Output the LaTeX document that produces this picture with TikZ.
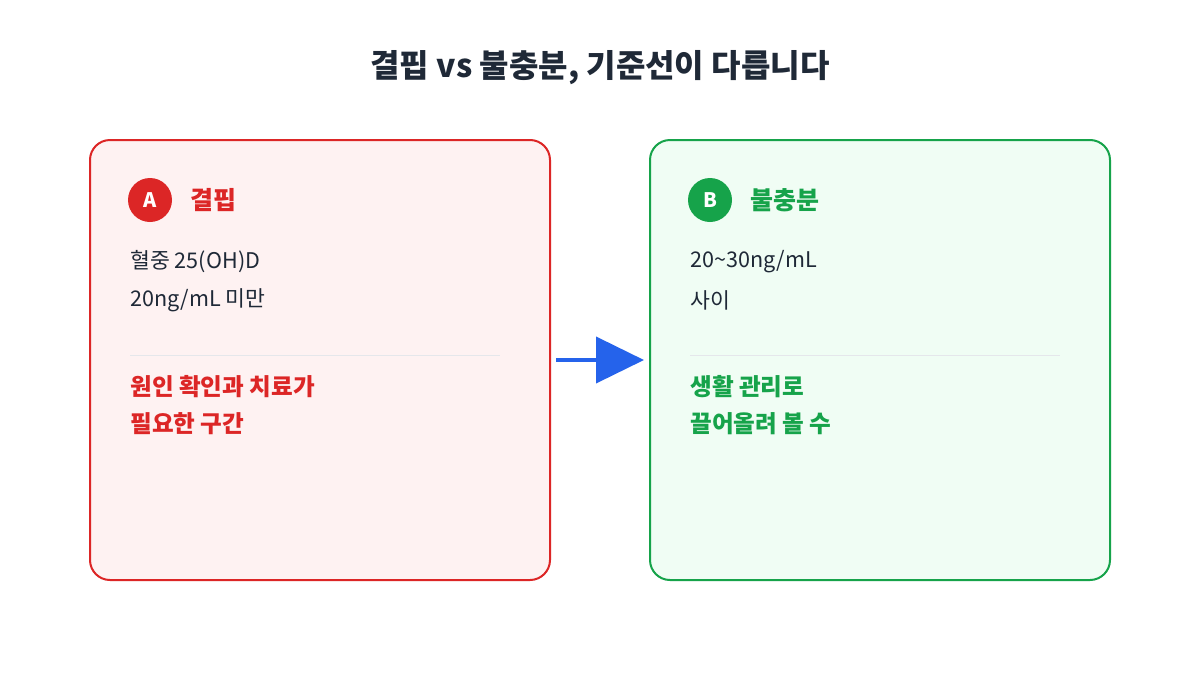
\documentclass[tikz,border=0pt]{standalone}
\usepackage{fontspec}
\setmainfont{Noto Sans CJK KR}
\usetikzlibrary{arrows.meta,positioning}
\definecolor{ink}{HTML}{1F2937}
\definecolor{redA}{HTML}{DC2626}
\definecolor{redbg}{HTML}{FEF2F2}
\definecolor{grnB}{HTML}{16A34A}
\definecolor{grnbg}{HTML}{F0FDF4}
\definecolor{rule}{HTML}{E5E7EB}
\definecolor{arrowblue}{HTML}{2563EB}
\begin{document}
\begin{tikzpicture}[x=0.5pt,y=-0.5pt,
  card/.style n args={2}{draw=#1,fill=#2,line width=1pt,rounded corners=10pt,minimum width=230pt,minimum height=220pt,inner sep=0pt},
  badge/.style={circle,fill=#1,text=white,minimum size=22pt,inner sep=0pt,font=\bfseries\fontsize{10}{12}\selectfont},
  head/.style={text=#1,anchor=west,inner sep=0pt,font=\bfseries\fontsize{12.5}{14}\selectfont},
  body/.style={text=ink,anchor=west,inner sep=0pt,font=\fontsize{10.8}{13}\selectfont},
  note/.style={text=#1,anchor=west,inner sep=0pt,font=\bfseries\fontsize{11.8}{14}\selectfont}]
\useasboundingbox (0,0) rectangle (1200,675);
\fill[white] (0,0) rectangle (1200,675);
\node[text=ink,font=\bfseries\fontsize{16}{18}\selectfont] (title) at (600,68) {결핍 vs 불충분, 기준선이 다릅니다};
% left card
\node[card={redA}{redbg}] (cardA) at (320,360) {};
\node[badge=redA] (badgeA) at (150,200) {A};
\node[head=redA] (headA) at (190,200) {결핍};
\node[body] (lineA1) at (130,262) {혈중 25(OH)D};
\node[body] (lineA2) at (130,300) {20ng/mL 미만};
\draw[rule] (130,355) -- (500,355);
\node[note=redA] (noteA1) at (130,387) {원인 확인과 치료가};
\node[note=redA] (noteA2) at (130,424) {필요한 구간};
% right card
\node[card={grnB}{grnbg}] (cardB) at (880,360) {};
\node[badge=grnB] (badgeB) at (710,200) {B};
\node[head=grnB] (headB) at (750,200) {불충분};
\node[body] (lineB1) at (690,262) {20\textasciitilde30ng/mL};
\node[body] (lineB2) at (690,300) {사이};
\draw[rule] (690,355) -- (1060,355);
\node[note=grnB] (noteB1) at (690,387) {생활 관리로};
\node[note=grnB] (noteB2) at (690,424) {끌어올려 볼 수};
% connector
\draw[arrowblue,line width=2pt,-{Triangle[length=24pt,width=23pt]},shorten <=2.5pt,shorten >=2.5pt] (cardA.east) -- (cardB.west);
\end{tikzpicture}
\end{document}
